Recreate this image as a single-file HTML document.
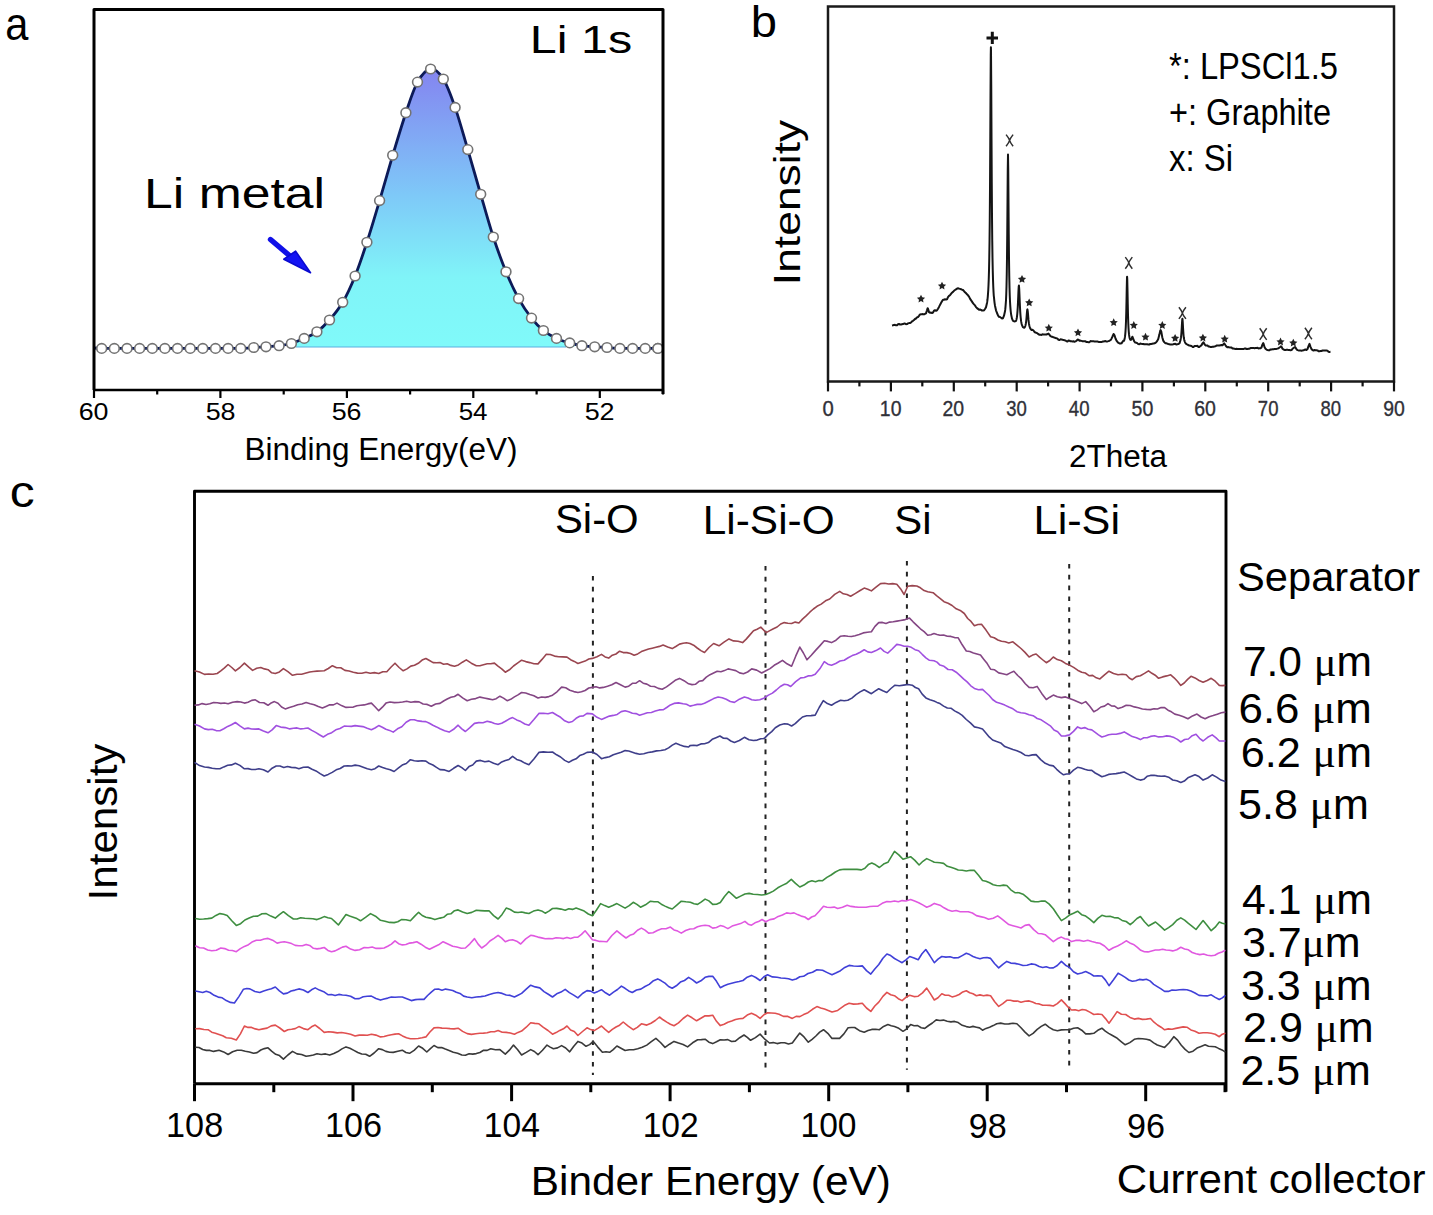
<!DOCTYPE html>
<html><head><meta charset="utf-8"><style>html,body{margin:0;padding:0;background:#fff;width:1433px;height:1215px;overflow:hidden} svg text{font-family:'Liberation Sans',sans-serif}</style></head>
<body><svg width="1433" height="1215" viewBox="0 0 1433 1215" style="font-family:'Liberation Sans',sans-serif;display:block"><defs><linearGradient id="ga" x1="0" y1="0" x2="0" y2="1"><stop offset="0" stop-color="#8484f0"/><stop offset="0.45" stop-color="#7ec8f8"/><stop offset="0.75" stop-color="#80f4f8"/><stop offset="1" stop-color="#80fafa"/></linearGradient></defs>
<path d="M291.4,343.5 C293.5,342.6 299.9,340.3 304.2,338.4 C308.4,336.4 312.7,334.9 316.9,331.8 C321.1,328.7 325.2,324.9 329.5,320.0 C333.8,315.1 338.4,309.6 342.7,302.3 C347.0,295.0 351.1,286.0 355.1,276.0 C359.1,266.0 362.8,254.9 366.9,242.3 C371.0,229.7 375.3,215.1 379.6,200.6 C383.9,186.1 388.3,170.0 392.7,155.3 C397.1,140.7 401.8,124.9 405.9,112.7 C410.0,100.5 413.4,89.4 417.5,82.1 C421.6,74.8 426.3,69.5 430.6,69.0 C434.9,68.5 439.2,72.6 443.3,79.0 C447.4,85.4 451.0,95.6 455.1,107.4 C459.2,119.2 463.5,135.1 467.8,149.6 C472.1,164.1 476.4,179.7 480.7,194.3 C484.9,208.9 489.1,224.1 493.3,237.0 C497.5,249.9 501.8,261.5 506.0,271.8 C510.2,282.1 514.4,290.9 518.6,298.6 C522.9,306.3 527.4,312.8 531.5,318.1 C535.6,323.4 539.2,327.1 543.4,330.5 C547.6,333.9 552.1,336.3 556.5,338.4 C560.9,340.5 567.5,342.1 569.7,342.9 L575,347 L290,347 Z" fill="url(#ga)" stroke="none"/>
<line x1="296" y1="347" x2="566" y2="347" stroke="#5ab0e0" stroke-width="1.2"/>
<path d="M94.0,348.0 C95.3,348.1 98.3,348.3 101.7,348.4 C105.1,348.5 110.1,348.4 114.3,348.4 C118.6,348.4 122.8,348.4 127.0,348.4 C131.2,348.4 135.4,348.4 139.6,348.4 C143.8,348.4 148.0,348.4 152.3,348.4 C156.5,348.4 160.7,348.4 164.9,348.4 C169.1,348.4 173.3,348.4 177.5,348.4 C181.8,348.4 186.0,348.4 190.2,348.4 C194.4,348.4 198.6,348.4 202.8,348.4 C207.0,348.4 211.2,348.4 215.5,348.4 C219.7,348.4 223.9,348.4 228.1,348.4 C232.3,348.4 236.5,348.5 240.7,348.4 C245.0,348.2 249.5,347.8 253.7,347.5 C257.9,347.2 261.8,347.1 266.0,346.8 C270.2,346.5 274.9,346.2 279.1,345.7 C283.3,345.1 287.2,344.7 291.4,343.5 C295.6,342.3 299.9,340.3 304.2,338.4 C308.4,336.4 312.7,334.9 316.9,331.8 C321.1,328.7 325.2,324.9 329.5,320.0 C333.8,315.1 338.4,309.6 342.7,302.3 C347.0,295.0 351.1,286.0 355.1,276.0 C359.1,266.0 362.8,254.9 366.9,242.3 C371.0,229.7 375.3,215.1 379.6,200.6 C383.9,186.1 388.3,170.0 392.7,155.3 C397.1,140.7 401.8,124.9 405.9,112.7 C410.0,100.5 413.4,89.4 417.5,82.1 C421.6,74.8 426.3,69.5 430.6,69.0 C434.9,68.5 439.2,72.6 443.3,79.0 C447.4,85.4 451.0,95.6 455.1,107.4 C459.2,119.2 463.5,135.1 467.8,149.6 C472.1,164.1 476.4,179.7 480.7,194.3 C484.9,208.9 489.1,224.1 493.3,237.0 C497.5,249.9 501.8,261.5 506.0,271.8 C510.2,282.1 514.4,290.9 518.6,298.6 C522.9,306.3 527.4,312.8 531.5,318.1 C535.6,323.4 539.2,327.1 543.4,330.5 C547.6,333.9 552.1,336.3 556.5,338.4 C560.9,340.5 565.5,341.7 569.7,342.9 C573.9,344.1 577.7,345.0 581.9,345.7 C586.1,346.4 590.5,346.5 594.7,346.8 C598.9,347.1 602.8,347.2 607.0,347.5 C611.2,347.8 615.7,348.2 619.9,348.4 C624.2,348.5 628.4,348.4 632.6,348.4 C636.8,348.4 641.0,348.4 645.2,348.4 C649.4,348.4 654.9,348.5 657.9,348.4 C660.8,348.3 662.1,348.1 663.0,348.0" fill="none" stroke="#0c1a58" stroke-width="2.8"/>
<ellipse cx="101.7" cy="348.4" rx="4.9" ry="4.8" fill="#fff" stroke="#737373" stroke-width="1.6"/>
<ellipse cx="114.3" cy="348.4" rx="4.9" ry="4.8" fill="#fff" stroke="#737373" stroke-width="1.6"/>
<ellipse cx="127.0" cy="348.4" rx="4.9" ry="4.8" fill="#fff" stroke="#737373" stroke-width="1.6"/>
<ellipse cx="139.6" cy="348.4" rx="4.9" ry="4.8" fill="#fff" stroke="#737373" stroke-width="1.6"/>
<ellipse cx="152.3" cy="348.4" rx="4.9" ry="4.8" fill="#fff" stroke="#737373" stroke-width="1.6"/>
<ellipse cx="164.9" cy="348.4" rx="4.9" ry="4.8" fill="#fff" stroke="#737373" stroke-width="1.6"/>
<ellipse cx="177.5" cy="348.4" rx="4.9" ry="4.8" fill="#fff" stroke="#737373" stroke-width="1.6"/>
<ellipse cx="190.2" cy="348.4" rx="4.9" ry="4.8" fill="#fff" stroke="#737373" stroke-width="1.6"/>
<ellipse cx="202.8" cy="348.4" rx="4.9" ry="4.8" fill="#fff" stroke="#737373" stroke-width="1.6"/>
<ellipse cx="215.5" cy="348.4" rx="4.9" ry="4.8" fill="#fff" stroke="#737373" stroke-width="1.6"/>
<ellipse cx="228.1" cy="348.4" rx="4.9" ry="4.8" fill="#fff" stroke="#737373" stroke-width="1.6"/>
<ellipse cx="240.7" cy="348.4" rx="4.9" ry="4.8" fill="#fff" stroke="#737373" stroke-width="1.6"/>
<ellipse cx="253.7" cy="347.5" rx="4.9" ry="4.8" fill="#fff" stroke="#737373" stroke-width="1.6"/>
<ellipse cx="266.0" cy="346.8" rx="4.9" ry="4.8" fill="#fff" stroke="#737373" stroke-width="1.6"/>
<ellipse cx="279.1" cy="345.7" rx="4.9" ry="4.8" fill="#fff" stroke="#737373" stroke-width="1.6"/>
<ellipse cx="291.4" cy="343.5" rx="4.9" ry="4.8" fill="#fff" stroke="#737373" stroke-width="1.6"/>
<ellipse cx="304.2" cy="338.4" rx="4.9" ry="4.8" fill="#fff" stroke="#737373" stroke-width="1.6"/>
<ellipse cx="316.9" cy="331.8" rx="4.9" ry="4.8" fill="#fff" stroke="#737373" stroke-width="1.6"/>
<ellipse cx="329.5" cy="320.0" rx="4.9" ry="4.8" fill="#fff" stroke="#737373" stroke-width="1.6"/>
<ellipse cx="342.7" cy="302.3" rx="4.9" ry="4.8" fill="#fff" stroke="#737373" stroke-width="1.6"/>
<ellipse cx="355.1" cy="276.0" rx="4.9" ry="4.8" fill="#fff" stroke="#737373" stroke-width="1.6"/>
<ellipse cx="366.9" cy="242.3" rx="4.9" ry="4.8" fill="#fff" stroke="#737373" stroke-width="1.6"/>
<ellipse cx="379.6" cy="200.6" rx="4.9" ry="4.8" fill="#fff" stroke="#737373" stroke-width="1.6"/>
<ellipse cx="392.7" cy="155.3" rx="4.9" ry="4.8" fill="#fff" stroke="#737373" stroke-width="1.6"/>
<ellipse cx="405.9" cy="112.7" rx="4.9" ry="4.8" fill="#fff" stroke="#737373" stroke-width="1.6"/>
<ellipse cx="417.5" cy="82.1" rx="4.9" ry="4.8" fill="#fff" stroke="#737373" stroke-width="1.6"/>
<ellipse cx="430.6" cy="69.0" rx="4.9" ry="4.8" fill="#fff" stroke="#737373" stroke-width="1.6"/>
<ellipse cx="443.3" cy="79.0" rx="4.9" ry="4.8" fill="#fff" stroke="#737373" stroke-width="1.6"/>
<ellipse cx="455.1" cy="107.4" rx="4.9" ry="4.8" fill="#fff" stroke="#737373" stroke-width="1.6"/>
<ellipse cx="467.8" cy="149.6" rx="4.9" ry="4.8" fill="#fff" stroke="#737373" stroke-width="1.6"/>
<ellipse cx="480.7" cy="194.3" rx="4.9" ry="4.8" fill="#fff" stroke="#737373" stroke-width="1.6"/>
<ellipse cx="493.3" cy="237.0" rx="4.9" ry="4.8" fill="#fff" stroke="#737373" stroke-width="1.6"/>
<ellipse cx="506.0" cy="271.8" rx="4.9" ry="4.8" fill="#fff" stroke="#737373" stroke-width="1.6"/>
<ellipse cx="518.6" cy="298.6" rx="4.9" ry="4.8" fill="#fff" stroke="#737373" stroke-width="1.6"/>
<ellipse cx="531.5" cy="318.1" rx="4.9" ry="4.8" fill="#fff" stroke="#737373" stroke-width="1.6"/>
<ellipse cx="543.4" cy="330.5" rx="4.9" ry="4.8" fill="#fff" stroke="#737373" stroke-width="1.6"/>
<ellipse cx="556.5" cy="338.4" rx="4.9" ry="4.8" fill="#fff" stroke="#737373" stroke-width="1.6"/>
<ellipse cx="569.7" cy="342.9" rx="4.9" ry="4.8" fill="#fff" stroke="#737373" stroke-width="1.6"/>
<ellipse cx="581.9" cy="345.7" rx="4.9" ry="4.8" fill="#fff" stroke="#737373" stroke-width="1.6"/>
<ellipse cx="594.7" cy="346.8" rx="4.9" ry="4.8" fill="#fff" stroke="#737373" stroke-width="1.6"/>
<ellipse cx="607.0" cy="347.5" rx="4.9" ry="4.8" fill="#fff" stroke="#737373" stroke-width="1.6"/>
<ellipse cx="619.9" cy="348.4" rx="4.9" ry="4.8" fill="#fff" stroke="#737373" stroke-width="1.6"/>
<ellipse cx="632.6" cy="348.4" rx="4.9" ry="4.8" fill="#fff" stroke="#737373" stroke-width="1.6"/>
<ellipse cx="645.2" cy="348.4" rx="4.9" ry="4.8" fill="#fff" stroke="#737373" stroke-width="1.6"/>
<ellipse cx="657.9" cy="348.4" rx="4.9" ry="4.8" fill="#fff" stroke="#737373" stroke-width="1.6"/>
<ellipse cx="657.9" cy="348.4" rx="4.9" ry="4.8" fill="#fff" stroke="#737373" stroke-width="1.6"/>
<path d="M94,390 L94,9.5 L663,9.5 L663,394" fill="none" stroke="#000" stroke-width="3" stroke-linejoin="round"/><path d="M94,390 L663,390" fill="none" stroke="#000" stroke-width="2.5"/>
<line x1="663.0" y1="390" x2="663.0" y2="394.5" stroke="#000" stroke-width="2.2"/>
<line x1="599.8" y1="390" x2="599.8" y2="398" stroke="#000" stroke-width="2.2"/>
<text x="584.65" y="419.8" font-size="24" text-anchor="start" fill="#000" textLength="29.96" lengthAdjust="spacingAndGlyphs" >52</text>
<line x1="536.6" y1="390" x2="536.6" y2="394.5" stroke="#000" stroke-width="2.2"/>
<line x1="473.3" y1="390" x2="473.3" y2="398" stroke="#000" stroke-width="2.2"/>
<text x="458.65" y="419.8" font-size="24" text-anchor="start" fill="#000" textLength="28.89" lengthAdjust="spacingAndGlyphs" >54</text>
<line x1="410.1" y1="390" x2="410.1" y2="394.5" stroke="#000" stroke-width="2.2"/>
<line x1="346.9" y1="390" x2="346.9" y2="398" stroke="#000" stroke-width="2.2"/>
<text x="331.65" y="419.8" font-size="24" text-anchor="start" fill="#000" textLength="29.88" lengthAdjust="spacingAndGlyphs" >56</text>
<line x1="283.7" y1="390" x2="283.7" y2="394.5" stroke="#000" stroke-width="2.2"/>
<line x1="220.4" y1="390" x2="220.4" y2="398" stroke="#000" stroke-width="2.2"/>
<text x="205.65" y="419.8" font-size="24" text-anchor="start" fill="#000" textLength="29.92" lengthAdjust="spacingAndGlyphs" >58</text>
<line x1="157.2" y1="390" x2="157.2" y2="394.5" stroke="#000" stroke-width="2.2"/>
<line x1="94.0" y1="390" x2="94.0" y2="398" stroke="#000" stroke-width="2.2"/>
<text x="78.65" y="419.8" font-size="24" text-anchor="start" fill="#000" textLength="29.84" lengthAdjust="spacingAndGlyphs" >60</text>
<text x="5.30" y="40.2" font-size="46" text-anchor="start" fill="#000" textLength="23.14" lengthAdjust="spacingAndGlyphs" >a</text>
<text x="529.80" y="52.5" font-size="39" text-anchor="start" fill="#000" textLength="102.36" lengthAdjust="spacingAndGlyphs" >Li 1s</text>
<text x="144.10" y="207.6" font-size="42" text-anchor="start" fill="#000" textLength="180.95" lengthAdjust="spacingAndGlyphs" >Li metal</text>
<text x="244.60" y="459.6" font-size="31" text-anchor="start" fill="#000" textLength="272.79" lengthAdjust="spacingAndGlyphs" >Binding Energy(eV)</text>
<line x1="270.5" y1="239.5" x2="290" y2="256" stroke="#1010e8" stroke-width="5.4" stroke-linecap="round"/>
<polygon points="310.5,272.8 283.8,259.2 295.6,251.2" fill="#1414f4" stroke="#0a0ad0" stroke-width="1.6" stroke-linejoin="round"/>
<path d="M828,381.4 L828,6.5 L1394,6.5 L1394,381.4 Z" fill="none" stroke="#1a1a1a" stroke-width="2.5"/>
<line x1="828.0" y1="381.4" x2="828.0" y2="391.4" stroke="#111" stroke-width="2.2"/>
<text x="822.40" y="415.8" font-size="22.3" text-anchor="start" fill="#303038" textLength="11.27" lengthAdjust="spacingAndGlyphs" stroke="#303038" stroke-width="0.35">0</text>
<line x1="859.4" y1="381.4" x2="859.4" y2="386.4" stroke="#111" stroke-width="2.2"/>
<line x1="890.9" y1="381.4" x2="890.9" y2="391.4" stroke="#111" stroke-width="2.2"/>
<text x="879.87" y="415.8" font-size="22.3" text-anchor="start" fill="#303038" textLength="21.61" lengthAdjust="spacingAndGlyphs" stroke="#303038" stroke-width="0.35">10</text>
<line x1="922.3" y1="381.4" x2="922.3" y2="386.4" stroke="#111" stroke-width="2.2"/>
<line x1="953.8" y1="381.4" x2="953.8" y2="391.4" stroke="#111" stroke-width="2.2"/>
<text x="942.53" y="415.8" font-size="22.3" text-anchor="start" fill="#303038" textLength="21.66" lengthAdjust="spacingAndGlyphs" stroke="#303038" stroke-width="0.35">20</text>
<line x1="985.2" y1="381.4" x2="985.2" y2="386.4" stroke="#111" stroke-width="2.2"/>
<line x1="1016.7" y1="381.4" x2="1016.7" y2="391.4" stroke="#111" stroke-width="2.2"/>
<text x="1006.20" y="415.8" font-size="22.3" text-anchor="start" fill="#303038" textLength="20.63" lengthAdjust="spacingAndGlyphs" stroke="#303038" stroke-width="0.35">30</text>
<line x1="1048.1" y1="381.4" x2="1048.1" y2="386.4" stroke="#111" stroke-width="2.2"/>
<line x1="1079.6" y1="381.4" x2="1079.6" y2="391.4" stroke="#111" stroke-width="2.2"/>
<text x="1068.87" y="415.8" font-size="22.3" text-anchor="start" fill="#303038" textLength="20.68" lengthAdjust="spacingAndGlyphs" stroke="#303038" stroke-width="0.35">40</text>
<line x1="1111.0" y1="381.4" x2="1111.0" y2="386.4" stroke="#111" stroke-width="2.2"/>
<line x1="1142.4" y1="381.4" x2="1142.4" y2="391.4" stroke="#111" stroke-width="2.2"/>
<text x="1131.53" y="415.8" font-size="22.3" text-anchor="start" fill="#303038" textLength="21.77" lengthAdjust="spacingAndGlyphs" stroke="#303038" stroke-width="0.35">50</text>
<line x1="1173.9" y1="381.4" x2="1173.9" y2="386.4" stroke="#111" stroke-width="2.2"/>
<line x1="1205.3" y1="381.4" x2="1205.3" y2="391.4" stroke="#111" stroke-width="2.2"/>
<text x="1194.20" y="415.8" font-size="22.3" text-anchor="start" fill="#303038" textLength="21.72" lengthAdjust="spacingAndGlyphs" stroke="#303038" stroke-width="0.35">60</text>
<line x1="1236.8" y1="381.4" x2="1236.8" y2="386.4" stroke="#111" stroke-width="2.2"/>
<line x1="1268.2" y1="381.4" x2="1268.2" y2="391.4" stroke="#111" stroke-width="2.2"/>
<text x="1257.87" y="415.8" font-size="22.3" text-anchor="start" fill="#303038" textLength="20.58" lengthAdjust="spacingAndGlyphs" stroke="#303038" stroke-width="0.35">70</text>
<line x1="1299.7" y1="381.4" x2="1299.7" y2="386.4" stroke="#111" stroke-width="2.2"/>
<line x1="1331.1" y1="381.4" x2="1331.1" y2="391.4" stroke="#111" stroke-width="2.2"/>
<text x="1320.53" y="415.8" font-size="22.3" text-anchor="start" fill="#303038" textLength="20.63" lengthAdjust="spacingAndGlyphs" stroke="#303038" stroke-width="0.35">80</text>
<line x1="1362.6" y1="381.4" x2="1362.6" y2="386.4" stroke="#111" stroke-width="2.2"/>
<line x1="1394.0" y1="381.4" x2="1394.0" y2="391.4" stroke="#111" stroke-width="2.2"/>
<text x="1383.20" y="415.8" font-size="22.3" text-anchor="start" fill="#303038" textLength="21.61" lengthAdjust="spacingAndGlyphs" stroke="#303038" stroke-width="0.35">90</text>
<text x="750.80" y="36.6" font-size="45" text-anchor="start" fill="#000" textLength="26.24" lengthAdjust="spacingAndGlyphs" >b</text>
<text x="1069.00" y="466.6" font-size="31" text-anchor="start" fill="#000" textLength="98.00" lengthAdjust="spacingAndGlyphs" >2Theta</text>
<text x="0" y="0" font-size="37.5" transform="translate(800,285.2) rotate(-90)" textLength="165.4" lengthAdjust="spacingAndGlyphs">Intensity</text>
<text x="1169.00" y="78.5" font-size="37" text-anchor="start" fill="#000" textLength="169.00" lengthAdjust="spacingAndGlyphs" >*: LPSCl1.5</text>
<text x="1169.00" y="124.9" font-size="37" text-anchor="start" fill="#000" textLength="162.00" lengthAdjust="spacingAndGlyphs" >+: Graphite</text>
<text x="1169.00" y="170.6" font-size="37" text-anchor="start" fill="#000" textLength="64.00" lengthAdjust="spacingAndGlyphs" >x: Si</text>
<polyline points="892.00,325.5 893.00,325.3 894.00,324.9 895.00,324.8 896.00,325.3 897.00,325.2 898.00,324.2 899.00,324.0 900.00,324.5 901.00,324.5 902.00,324.2 903.00,324.1 904.00,323.6 905.00,323.6 906.00,324.2 907.00,324.1 908.00,323.4 909.00,323.1 910.00,323.1 911.00,322.5 912.00,321.4 913.00,320.8 914.00,320.0 915.00,319.0 916.00,318.5 917.00,317.4 918.00,317.0 919.00,315.9 920.00,314.4 921.00,314.3 922.00,314.3 923.00,314.1 924.00,314.4 925.00,313.9 926.00,313.4 927.00,310.3 927.60,308.2 928.00,308.7 929.00,312.1 930.00,312.8 931.00,312.6 932.00,313.0 933.00,312.5 934.00,310.7 935.00,310.2 936.00,310.8 937.00,310.3 938.00,308.7 939.00,306.9 940.00,304.9 941.00,303.1 942.00,301.3 943.00,299.7 944.00,299.7 945.00,299.3 946.00,299.6 947.00,299.3 948.00,297.1 949.00,295.9 950.00,295.2 951.00,293.9 952.00,292.7 953.00,291.9 954.00,290.8 955.00,290.0 956.00,289.4 957.00,288.6 958.00,288.3 959.00,288.6 960.00,288.9 961.00,289.2 962.00,289.7 963.00,290.0 964.00,291.1 965.00,292.3 966.00,293.1 967.00,294.3 968.00,295.3 969.00,296.6 970.00,298.6 971.00,300.2 972.00,301.6 973.00,303.2 974.00,304.4 975.00,305.4 976.00,307.1 977.00,308.1 978.00,308.9 979.00,309.7 980.00,309.5 981.00,309.9 982.00,310.6 983.00,310.6 984.00,310.3 985.00,309.0 986.00,307.2 987.00,303.0 987.25,301.4 987.50,299.5 987.75,297.1 988.00,293.9 988.25,290.2 988.50,285.3 988.75,279.0 989.00,270.6 989.25,259.1 989.50,243.1 989.75,220.7 990.00,188.4 990.25,145.8 990.50,95.6 990.75,55.2 990.90,47.2 991.00,50.9 991.25,86.2 991.50,136.6 991.75,181.6 992.00,216.4 992.25,240.7 992.50,257.9 992.75,270.3 993.00,279.4 993.25,286.2 993.50,291.4 993.75,295.5 994.00,297.6 994.25,300.2 994.50,302.3 994.75,304.1 995.00,305.7 996.00,310.3 997.00,313.0 998.00,315.4 999.00,316.8 1000.00,317.0 1001.00,317.7 1002.00,318.4 1003.00,318.2 1004.00,315.7 1005.00,311.3 1005.25,309.4 1005.50,306.9 1005.75,303.7 1006.00,300.3 1006.25,294.5 1006.50,286.3 1006.75,274.6 1007.00,257.7 1007.25,233.7 1007.50,202.0 1007.75,169.4 1008.00,154.5 1008.25,169.7 1008.50,202.4 1008.75,234.2 1009.00,258.4 1009.25,275.4 1009.50,287.2 1009.75,295.5 1010.00,301.2 1010.25,305.6 1010.50,308.9 1010.75,311.5 1011.00,313.5 1011.25,315.1 1011.50,316.3 1011.75,317.4 1012.00,318.7 1013.00,320.9 1014.00,321.2 1015.00,321.4 1015.25,321.3 1015.50,321.1 1015.75,320.7 1016.00,320.8 1016.25,320.1 1016.50,319.2 1016.75,318.0 1017.00,316.3 1017.25,314.1 1017.50,311.1 1017.75,307.2 1018.00,302.1 1018.25,296.2 1018.50,290.3 1018.75,286.3 1018.90,285.6 1019.00,286.0 1019.25,289.8 1019.50,295.8 1019.75,302.1 1020.00,307.6 1020.25,312.1 1020.50,315.5 1020.75,318.2 1021.00,320.3 1021.25,321.9 1021.50,323.2 1021.75,324.3 1022.00,325.0 1022.25,325.6 1022.50,326.2 1022.75,326.7 1023.00,327.1 1024.00,327.8 1024.25,327.7 1024.50,327.5 1024.75,327.2 1025.00,326.7 1025.25,326.1 1025.50,325.2 1025.75,324.0 1026.00,322.6 1026.25,320.6 1026.50,318.0 1026.75,314.9 1027.00,311.9 1027.25,309.7 1027.40,309.4 1027.50,309.6 1027.75,311.4 1028.00,313.8 1028.25,317.1 1028.50,319.9 1028.75,322.1 1029.00,323.9 1029.25,325.2 1029.50,326.2 1029.75,327.0 1030.00,327.9 1030.25,328.4 1030.50,328.8 1030.75,329.2 1031.00,329.5 1031.25,329.7 1031.50,329.9 1032.50,329.8 1033.50,330.5 1034.50,332.0 1035.50,332.5 1036.50,332.9 1037.50,333.4 1038.50,334.3 1039.50,334.7 1040.50,334.8 1041.50,334.9 1042.50,334.3 1043.50,334.4 1044.50,334.6 1045.50,334.5 1046.50,334.6 1047.50,333.9 1047.80,333.9 1048.50,333.6 1049.50,334.8 1050.50,336.2 1051.50,336.7 1052.50,336.8 1053.50,337.3 1054.50,337.6 1055.50,338.0 1056.50,338.3 1057.50,338.6 1058.50,339.8 1059.50,340.0 1060.50,339.3 1061.50,339.4 1062.50,339.8 1063.50,339.9 1064.50,340.3 1065.50,340.5 1066.50,341.3 1067.50,341.5 1068.50,340.5 1069.50,340.7 1070.50,341.3 1071.50,341.3 1072.50,341.4 1073.50,341.3 1074.50,341.7 1075.50,341.4 1076.50,340.7 1077.50,339.7 1078.00,339.5 1078.50,339.8 1079.50,340.8 1080.50,340.6 1081.50,340.9 1082.50,341.2 1083.50,341.3 1084.50,341.3 1085.50,341.3 1086.50,342.1 1087.50,342.1 1088.50,342.2 1089.50,342.2 1090.50,341.1 1091.50,341.2 1092.50,341.2 1093.50,341.3 1094.50,341.4 1095.50,341.4 1096.50,341.5 1097.50,341.5 1098.50,341.9 1099.50,341.9 1100.50,342.1 1101.50,342.1 1102.50,341.6 1103.50,341.6 1104.50,341.2 1105.50,341.1 1106.50,341.6 1107.50,341.4 1108.50,341.1 1109.50,340.7 1110.50,340.2 1111.50,338.7 1112.50,336.5 1113.50,334.1 1113.70,334.0 1114.50,335.2 1115.50,338.5 1116.50,340.6 1117.50,342.0 1118.50,342.9 1119.50,343.4 1120.50,343.6 1121.50,343.3 1122.50,341.9 1123.50,340.7 1123.75,340.2 1124.00,340.8 1124.25,340.1 1124.50,339.2 1124.75,338.0 1125.00,336.4 1125.25,334.3 1125.50,331.4 1125.75,327.3 1126.00,321.3 1126.25,312.9 1126.50,301.3 1126.75,287.7 1127.00,277.8 1127.10,276.7 1127.25,279.0 1127.50,290.3 1127.75,303.7 1128.00,314.7 1128.25,322.5 1128.50,327.9 1128.75,331.6 1129.00,334.2 1129.25,336.1 1129.50,337.4 1129.75,338.4 1130.00,339.0 1130.25,339.5 1130.50,339.8 1130.75,339.9 1131.00,339.8 1131.25,339.6 1132.25,336.9 1132.50,336.8 1133.25,338.8 1134.25,341.4 1135.25,342.6 1136.25,342.7 1137.25,343.1 1138.25,344.1 1139.25,344.3 1140.25,343.6 1141.25,343.8 1142.25,343.9 1143.25,344.0 1144.25,344.3 1145.25,344.3 1146.25,344.3 1147.25,344.3 1148.25,344.5 1149.25,344.5 1150.25,344.0 1151.25,343.9 1152.25,343.7 1153.25,343.5 1154.25,343.4 1155.25,343.0 1156.25,342.2 1157.25,340.9 1158.25,339.0 1159.25,335.1 1160.25,330.6 1160.60,330.1 1161.25,331.5 1162.25,337.2 1163.25,340.6 1164.25,342.1 1165.25,343.2 1166.25,343.2 1167.25,343.6 1168.25,344.0 1169.25,344.2 1170.25,344.4 1171.25,344.4 1172.25,344.4 1173.25,344.3 1174.25,343.9 1175.25,343.7 1176.25,344.6 1177.25,344.3 1178.25,344.1 1179.25,343.4 1179.50,343.2 1179.75,342.8 1180.00,341.6 1180.25,340.9 1180.50,340.1 1180.75,338.9 1181.00,337.2 1181.25,335.0 1181.50,331.8 1181.75,327.7 1182.00,323.1 1182.25,319.5 1182.40,318.8 1182.50,319.1 1182.75,322.3 1183.00,327.0 1183.25,331.4 1183.50,334.8 1183.75,337.3 1184.00,338.5 1184.25,339.9 1184.50,340.9 1184.75,341.6 1185.00,342.2 1185.25,342.7 1185.50,343.1 1185.75,343.4 1186.00,343.6 1186.25,343.9 1186.50,344.1 1187.50,344.6 1188.50,345.3 1189.50,345.6 1190.50,345.7 1191.50,345.9 1192.50,346.9 1193.50,347.0 1194.50,346.1 1195.50,346.1 1196.50,345.9 1197.50,345.8 1198.50,347.0 1199.50,346.9 1200.50,345.9 1201.50,345.3 1202.50,343.3 1203.40,342.3 1203.50,342.3 1204.50,344.2 1205.50,345.5 1206.50,345.4 1207.50,345.6 1208.50,346.5 1209.50,346.5 1210.50,347.1 1211.50,347.0 1212.50,346.8 1213.50,346.7 1214.50,346.4 1215.50,346.3 1216.50,345.6 1217.50,345.5 1218.50,345.5 1219.50,345.5 1220.50,345.2 1221.50,345.0 1222.50,345.3 1223.50,344.1 1224.10,343.4 1224.50,343.7 1225.50,345.3 1226.50,346.7 1227.50,347.3 1228.50,347.1 1229.50,347.4 1230.50,347.4 1231.50,347.5 1232.50,348.4 1233.50,348.5 1234.50,348.8 1235.50,348.9 1236.50,348.8 1237.50,348.9 1238.50,348.9 1239.50,348.9 1240.50,349.0 1241.50,349.1 1242.50,349.1 1243.50,349.1 1244.50,348.5 1245.50,348.5 1246.50,349.0 1247.50,349.0 1248.50,348.7 1249.50,348.7 1250.50,348.1 1251.50,348.1 1252.50,348.0 1253.50,347.9 1254.50,348.2 1255.50,348.1 1256.50,348.0 1257.50,347.8 1258.50,348.4 1259.50,348.3 1260.50,348.3 1261.50,347.4 1262.50,344.4 1263.20,343.1 1263.50,343.5 1264.50,347.0 1265.50,348.7 1266.50,349.6 1267.50,350.0 1268.50,350.2 1269.50,350.2 1270.50,349.4 1271.50,349.4 1272.50,349.2 1273.50,349.2 1274.50,349.1 1275.50,349.0 1276.50,348.9 1277.50,348.6 1278.50,348.3 1279.50,347.5 1280.50,346.8 1281.00,346.4 1281.50,346.8 1282.50,348.7 1283.50,349.5 1284.50,349.9 1285.50,350.1 1286.50,349.7 1287.50,349.8 1288.50,350.1 1289.50,350.1 1290.50,350.3 1291.50,350.1 1292.50,348.8 1293.50,348.0 1294.50,347.4 1295.00,347.1 1295.50,347.5 1296.50,349.3 1297.50,350.1 1298.50,350.4 1299.50,350.6 1300.50,350.6 1301.50,350.7 1302.50,350.4 1303.50,350.3 1304.50,349.8 1305.50,349.5 1306.50,350.0 1307.50,349.1 1308.50,346.2 1309.50,343.8 1310.50,346.9 1311.50,349.0 1312.50,350.1 1313.50,350.5 1314.50,350.0 1315.50,350.2 1316.50,350.3 1317.50,350.4 1318.50,351.2 1319.50,351.3 1320.50,351.1 1321.50,351.1 1322.50,350.4 1323.50,350.5 1324.50,350.5 1325.50,350.5 1326.50,350.6 1327.50,350.7 1328.50,351.8 1329.50,351.9 1330.50,351.8" fill="none" stroke="#141414" stroke-width="2" stroke-linejoin="round"/>
<polygon points="921.0,294.7 922.3,297.3 925.1,297.7 923.0,299.7 923.5,302.5 921.0,301.1 918.5,302.5 919.0,299.7 916.9,297.7 919.7,297.3" fill="#222"/>
<polygon points="942.0,281.7 943.3,284.3 946.1,284.7 944.0,286.7 944.5,289.5 942.0,288.1 939.5,289.5 940.0,286.7 937.9,284.7 940.7,284.3" fill="#222"/>
<polygon points="1022.0,275.0 1023.3,277.6 1026.1,278.0 1024.0,280.0 1024.5,282.8 1022.0,281.4 1019.5,282.8 1020.0,280.0 1017.9,278.0 1020.7,277.6" fill="#222"/>
<polygon points="1029.2,298.5 1030.5,301.1 1033.3,301.5 1031.2,303.5 1031.7,306.3 1029.2,304.9 1026.7,306.3 1027.2,303.5 1025.1,301.5 1027.9,301.1" fill="#222"/>
<polygon points="1048.8,323.8 1050.1,326.4 1052.9,326.8 1050.8,328.8 1051.3,331.6 1048.8,330.2 1046.3,331.6 1046.8,328.8 1044.7,326.8 1047.5,326.4" fill="#222"/>
<polygon points="1078.0,328.4 1079.3,331.0 1082.1,331.4 1080.0,333.4 1080.5,336.2 1078.0,334.8 1075.5,336.2 1076.0,333.4 1073.9,331.4 1076.7,331.0" fill="#222"/>
<polygon points="1113.7,318.3 1115.0,320.9 1117.8,321.3 1115.7,323.3 1116.2,326.1 1113.7,324.8 1111.2,326.1 1111.7,323.3 1109.6,321.3 1112.4,320.9" fill="#222"/>
<polygon points="1133.8,321.1 1135.1,323.7 1137.9,324.1 1135.8,326.1 1136.3,328.9 1133.8,327.5 1131.3,328.9 1131.8,326.1 1129.7,324.1 1132.5,323.7" fill="#222"/>
<polygon points="1145.5,332.8 1146.8,335.4 1149.6,335.8 1147.5,337.8 1148.0,340.6 1145.5,339.2 1143.0,340.6 1143.5,337.8 1141.4,335.8 1144.2,335.4" fill="#222"/>
<polygon points="1162.3,321.1 1163.6,323.7 1166.4,324.1 1164.3,326.1 1164.8,328.9 1162.3,327.5 1159.8,328.9 1160.3,326.1 1158.2,324.1 1161.0,323.7" fill="#222"/>
<polygon points="1175.1,334.0 1176.4,336.6 1179.2,337.0 1177.1,339.0 1177.6,341.8 1175.1,340.4 1172.6,341.8 1173.1,339.0 1171.0,337.0 1173.8,336.6" fill="#222"/>
<polygon points="1202.9,333.7 1204.2,336.3 1207.0,336.7 1204.9,338.7 1205.4,341.5 1202.9,340.1 1200.4,341.5 1200.9,338.7 1198.8,336.7 1201.6,336.3" fill="#222"/>
<polygon points="1224.7,334.8 1226.0,337.4 1228.8,337.8 1226.7,339.8 1227.2,342.6 1224.7,341.2 1222.2,342.6 1222.7,339.8 1220.6,337.8 1223.4,337.4" fill="#222"/>
<polygon points="1280.5,337.6 1281.8,340.2 1284.6,340.6 1282.5,342.6 1283.0,345.4 1280.5,344.0 1278.0,345.4 1278.5,342.6 1276.4,340.6 1279.2,340.2" fill="#222"/>
<polygon points="1293.3,338.7 1294.6,341.3 1297.4,341.7 1295.3,343.7 1295.8,346.5 1293.3,345.1 1290.8,346.5 1291.3,343.7 1289.2,341.7 1292.0,341.3" fill="#222"/>
<path d="M1006.1,134.6 Q1009.1,138.4 1009.6,140.4 Q1010.1,142.4 1013.1,146.2 M1013.1,134.6 Q1010.1,138.4 1009.6,140.4 Q1009.1,142.4 1006.1,146.2" fill="none" stroke="#2e2e2e" stroke-width="1.5"/>
<path d="M1125.3,257.1 Q1128.3,260.9 1128.8,262.9 Q1129.3,264.9 1132.3,268.7 M1132.3,257.1 Q1129.3,260.9 1128.8,262.9 Q1128.3,264.9 1125.3,268.7" fill="none" stroke="#2e2e2e" stroke-width="1.5"/>
<path d="M1178.9,307.3 Q1181.9,311.1 1182.4,313.1 Q1182.9,315.1 1185.9,318.9 M1185.9,307.3 Q1182.9,311.1 1182.4,313.1 Q1181.9,315.1 1178.9,318.9" fill="none" stroke="#2e2e2e" stroke-width="1.5"/>
<path d="M1259.7,328.3 Q1262.7,332.1 1263.2,334.1 Q1263.7,336.1 1266.7,339.9 M1266.7,328.3 Q1263.7,332.1 1263.2,334.1 Q1262.7,336.1 1259.7,339.9" fill="none" stroke="#2e2e2e" stroke-width="1.5"/>
<path d="M1304.9,327.7 Q1307.9,331.5 1308.4,333.5 Q1308.9,335.5 1311.9,339.3 M1311.9,327.7 Q1308.9,331.5 1308.4,333.5 Q1307.9,335.5 1304.9,339.3" fill="none" stroke="#2e2e2e" stroke-width="1.5"/>
<path d="M986.5,37.9 L998,37.9 M992.3,31.8 L992.3,44" stroke="#111" stroke-width="3"/>
<path d="M194.5,1083.7 L194.5,491.3 L1226,491.3 L1226,1091.7 M194.5,1083.7 L1226,1083.7" fill="none" stroke="#000" stroke-width="2.9" stroke-linejoin="round"/>
<line x1="1225.0" y1="1083.7" x2="1225.0" y2="1092.2" stroke="#000" stroke-width="3"/>
<line x1="1145.7" y1="1083.7" x2="1145.7" y2="1101.2" stroke="#000" stroke-width="3"/>
<text x="1126.94" y="1137.6" font-size="35" text-anchor="start" fill="#000" textLength="38.00" lengthAdjust="spacingAndGlyphs" >96</text>
<line x1="1066.5" y1="1083.7" x2="1066.5" y2="1092.2" stroke="#000" stroke-width="3"/>
<line x1="987.2" y1="1083.7" x2="987.2" y2="1101.2" stroke="#000" stroke-width="3"/>
<text x="968.70" y="1137.6" font-size="35" text-anchor="start" fill="#000" textLength="38.00" lengthAdjust="spacingAndGlyphs" >98</text>
<line x1="907.9" y1="1083.7" x2="907.9" y2="1092.2" stroke="#000" stroke-width="3"/>
<line x1="828.7" y1="1083.7" x2="828.7" y2="1101.2" stroke="#000" stroke-width="3"/>
<text x="800.54" y="1137.4" font-size="35" text-anchor="start" fill="#000" textLength="56.02" lengthAdjust="spacingAndGlyphs" >100</text>
<line x1="749.4" y1="1083.7" x2="749.4" y2="1092.2" stroke="#000" stroke-width="3"/>
<line x1="670.1" y1="1083.7" x2="670.1" y2="1101.2" stroke="#000" stroke-width="3"/>
<text x="642.68" y="1137.4" font-size="35" text-anchor="start" fill="#000" textLength="56.04" lengthAdjust="spacingAndGlyphs" >102</text>
<line x1="590.8" y1="1083.7" x2="590.8" y2="1092.2" stroke="#000" stroke-width="3"/>
<line x1="511.6" y1="1083.7" x2="511.6" y2="1101.2" stroke="#000" stroke-width="3"/>
<text x="483.82" y="1137.4" font-size="35" text-anchor="start" fill="#000" textLength="56.02" lengthAdjust="spacingAndGlyphs" >104</text>
<line x1="432.3" y1="1083.7" x2="432.3" y2="1092.2" stroke="#000" stroke-width="3"/>
<line x1="353.0" y1="1083.7" x2="353.0" y2="1101.2" stroke="#000" stroke-width="3"/>
<text x="324.96" y="1137.4" font-size="35" text-anchor="start" fill="#000" textLength="57.10" lengthAdjust="spacingAndGlyphs" >106</text>
<line x1="273.8" y1="1083.7" x2="273.8" y2="1092.2" stroke="#000" stroke-width="3"/>
<line x1="194.5" y1="1083.7" x2="194.5" y2="1101.2" stroke="#000" stroke-width="3"/>
<text x="166.10" y="1137.4" font-size="35" text-anchor="start" fill="#000" textLength="57.10" lengthAdjust="spacingAndGlyphs" >108</text>
<text x="9.70" y="507.3" font-size="45" text-anchor="start" fill="#000" textLength="24.88" lengthAdjust="spacingAndGlyphs" >c</text>
<text x="530.80" y="1195.3" font-size="40.5" text-anchor="start" fill="#000" textLength="360.08" lengthAdjust="spacingAndGlyphs" >Binder Energy (eV)</text>
<text x="1116.80" y="1192.5" font-size="40" text-anchor="start" fill="#000" textLength="308.60" lengthAdjust="spacingAndGlyphs" >Current collector</text>
<text x="0" y="0" font-size="40" transform="translate(116.7,900.4) rotate(-90)" textLength="156.8" lengthAdjust="spacingAndGlyphs">Intensity</text>
<text x="554.90" y="532.6" font-size="40" text-anchor="start" fill="#000" textLength="83.82" lengthAdjust="spacingAndGlyphs" >Si-O</text>
<text x="702.80" y="533.5" font-size="40" text-anchor="start" fill="#000" textLength="131.80" lengthAdjust="spacingAndGlyphs" >Li-Si-O</text>
<text x="894.20" y="534" font-size="40" text-anchor="start" fill="#000" textLength="37.30" lengthAdjust="spacingAndGlyphs" >Si</text>
<text x="1033.60" y="534" font-size="40" text-anchor="start" fill="#000" textLength="86.46" lengthAdjust="spacingAndGlyphs" >Li-Si</text>
<line x1="592.9" y1="576" x2="592.9" y2="1075" stroke="#222" stroke-width="2" stroke-dasharray="4.6,6.2"/>
<line x1="765.5" y1="566" x2="765.5" y2="1073.5" stroke="#222" stroke-width="2" stroke-dasharray="4.6,6.2"/>
<line x1="906.9" y1="561" x2="906.9" y2="1069.7" stroke="#222" stroke-width="2" stroke-dasharray="4.6,6.2"/>
<line x1="1069.2" y1="564" x2="1069.2" y2="1071.6" stroke="#222" stroke-width="2" stroke-dasharray="4.6,6.2"/>
<polyline points="194.5,670.8 199.5,672.0 204.5,674.4 208.7,674.0 213.0,674.3 217.2,673.5 220.8,670.9 224.5,667.9 228.1,664.5 231.8,667.5 235.4,670.8 239.9,667.5 244.4,663.2 248.5,666.9 252.6,670.4 256.7,668.2 260.8,667.5 264.4,668.9 268.1,669.7 271.7,672.8 275.3,673.5 279.4,671.9 283.4,668.6 287.9,671.7 292.5,675.3 297.0,674.2 301.6,674.2 306.1,673.0 309.7,672.0 313.3,671.5 317.0,671.1 320.6,671.0 324.2,670.8 328.3,668.5 332.4,665.7 336.6,667.8 340.8,667.8 344.9,670.4 349.1,671.0 353.3,672.2 357.5,673.1 361.8,673.2 366.0,672.2 370.2,673.3 374.5,672.6 378.7,673.5 382.8,671.7 386.8,671.7 390.9,667.3 395.0,663.2 399.1,667.5 403.2,670.8 407.0,668.9 410.8,666.1 414.5,665.3 418.3,663.3 422.1,660.1 425.9,658.5 429.5,660.5 433.1,662.6 436.6,662.8 440.0,662.6 443.6,664.2 447.2,663.7 450.9,665.4 454.5,666.2 458.4,664.9 462.4,662.2 466.3,659.9 471.3,663.2 476.3,665.7 479.9,665.7 483.5,664.7 487.2,663.8 490.8,663.8 494.4,663.1 498.0,666.2 501.7,668.9 505.3,672.2 509.4,669.8 513.5,666.0 517.5,663.2 521.6,660.2 525.7,661.6 529.8,662.6 533.9,663.7 538.0,663.9 542.0,659.4 546.1,654.4 550.3,654.5 554.5,656.1 558.6,656.8 562.8,656.9 567.0,657.1 570.6,659.7 574.3,661.4 577.9,663.5 581.5,662.2 585.1,661.1 588.8,659.0 592.4,658.4 597.0,656.7 601.5,654.4 605.1,656.9 608.7,658.1 612.3,655.2 616.0,654.0 619.6,651.2 623.2,652.6 626.9,652.6 630.5,653.5 634.1,655.3 637.7,653.9 641.4,651.6 645.0,650.2 648.6,649.0 652.2,648.2 655.9,647.3 659.5,646.4 663.1,645.0 667.7,646.9 672.2,648.6 675.8,646.5 679.5,644.1 683.1,643.2 686.5,642.7 690.0,643.5 693.6,645.2 697.2,648.0 700.9,650.6 704.5,652.5 709.0,647.5 713.6,643.5 719.0,645.8 724.0,642.2 729.0,638.9 733.5,640.9 738.1,641.2 742.6,642.6 746.2,639.1 749.9,634.9 753.5,630.8 757.1,629.2 760.8,627.1 766.2,632.6 769.8,630.6 773.4,628.7 777.1,627.0 780.7,624.0 784.3,622.6 787.9,623.2 791.6,623.5 795.2,622.1 798.9,623.0 802.5,619.1 806.1,615.9 809.8,612.2 813.4,609.0 817.0,606.3 821.2,604.1 825.5,600.8 829.7,599.0 834.7,594.4 839.7,591.4 843.3,593.8 847.0,594.5 850.6,596.3 855.1,593.6 859.7,590.8 864.2,588.1 867.8,589.2 871.4,590.9 876.0,587.2 880.5,583.6 884.6,583.2 888.6,584.0 892.7,583.6 896.8,584.2 900.5,588.7 904.1,594.5 907.7,586.3 912.2,585.6 916.8,586.0 920.4,587.8 924.1,590.6 927.7,591.8 933.1,592.7 936.5,595.7 940.0,598.3 944.0,601.7 948.1,603.2 952.1,605.5 956.2,608.8 960.2,610.4 964.3,613.5 967.7,618.5 971.0,621.4 974.4,625.7 978.0,624.5 981.5,624.2 986.0,630.1 990.6,636.8 994.2,637.7 997.9,640.0 1001.5,641.3 1005.2,641.8 1008.8,642.9 1012.9,641.8 1016.9,645.1 1021.0,648.5 1025.0,652.4 1029.1,657.0 1032.6,655.1 1036.1,654.0 1039.5,657.2 1042.9,660.0 1046.3,662.7 1049.8,660.5 1053.3,657.0 1057.3,659.6 1061.4,660.8 1065.5,663.4 1069.5,665.1 1073.6,667.4 1077.6,670.2 1081.7,672.2 1085.3,673.0 1089.0,675.7 1092.6,675.4 1096.3,677.8 1099.9,678.9 1104.5,674.8 1109.0,671.2 1113.5,673.5 1118.1,674.8 1122.2,674.2 1126.2,674.8 1129.2,678.0 1132.3,679.7 1136.3,676.6 1140.4,675.7 1144.5,673.4 1148.5,670.8 1151.9,673.3 1155.2,675.2 1158.6,678.3 1162.6,676.9 1166.7,675.9 1170.7,674.8 1174.1,677.8 1177.4,681.3 1180.8,685.4 1184.2,683.0 1187.6,679.4 1191.0,676.3 1195.0,677.9 1199.1,680.5 1203.1,682.3 1207.2,680.5 1211.2,678.3 1215.2,681.2 1219.3,685.4 1222.3,685.6 1225.4,685.4" fill="none" stroke="#9a4650" stroke-width="1.6" stroke-linejoin="round"/>
<polyline points="194.5,705.3 198.3,704.9 202.1,703.6 206.0,704.5 209.8,703.8 213.6,702.5 217.2,702.8 220.8,703.4 224.5,703.0 228.1,703.8 232.6,702.2 237.2,701.6 240.8,702.0 244.4,703.1 248.0,702.3 251.7,700.4 255.3,699.8 259.5,702.5 263.8,702.7 268.0,705.3 271.2,702.9 274.4,701.6 278.0,703.3 281.6,707.0 285.2,708.9 289.4,707.4 293.6,706.3 297.7,704.7 301.9,704.0 306.1,702.5 310.2,703.7 314.2,704.7 318.3,706.5 322.4,708.0 326.0,706.4 329.7,704.8 333.4,704.9 337.0,703.1 341.5,705.6 346.0,707.4 349.6,707.2 353.3,707.1 356.9,705.7 360.6,705.2 364.2,704.9 367.8,703.9 371.4,703.1 375.0,706.7 378.7,710.7 382.4,707.2 386.0,703.1 390.1,702.0 394.3,702.6 398.4,702.5 402.6,702.0 406.7,701.2 410.9,702.2 415.0,701.6 419.1,701.9 423.1,704.0 427.2,704.4 431.3,706.2 435.6,704.0 440.0,703.4 443.6,701.0 447.2,699.0 450.9,697.3 454.5,696.5 458.1,694.3 462.6,697.9 467.2,700.7 471.4,699.3 475.7,698.6 479.9,697.1 484.1,698.0 488.4,698.9 492.6,699.8 496.2,698.7 499.9,696.2 503.5,698.1 507.1,700.7 510.7,699.3 514.4,696.9 518.0,694.9 521.6,692.5 525.7,693.0 529.8,694.5 533.9,695.8 538.0,698.0 541.6,697.0 545.2,697.4 548.9,696.6 552.5,695.2 557.0,691.8 561.6,687.1 565.7,687.8 569.8,690.2 573.8,691.6 577.9,692.5 581.5,691.8 585.1,690.5 588.8,688.0 592.4,687.4 596.0,686.8 599.7,687.9 603.3,687.4 607.5,686.2 611.8,684.8 616.0,682.5 620.5,684.7 625.1,687.1 628.7,686.2 632.4,683.3 636.0,683.1 639.6,680.7 643.2,683.2 646.9,684.1 650.5,686.2 654.4,686.5 658.3,688.4 662.2,689.3 666.5,686.9 670.9,683.6 675.2,680.3 679.5,678.4 684.0,680.7 688.6,683.8 692.0,684.6 695.4,684.3 699.0,681.3 702.7,680.6 706.3,677.1 710.0,674.7 713.6,673.0 717.2,671.3 720.9,671.8 724.5,670.6 728.1,668.9 732.0,669.8 735.8,670.6 739.6,672.9 743.5,673.8 747.6,672.0 751.7,668.9 756.7,670.1 761.7,673.0 765.9,670.7 770.0,668.6 774.2,665.3 778.3,663.0 782.5,660.3 787.0,663.8 791.6,666.2 795.7,656.2 799.8,647.1 803.4,653.0 807.0,659.8 811.3,655.3 815.6,650.4 820.0,645.6 824.3,640.8 827.9,641.4 831.5,642.6 836.0,640.2 840.6,636.2 844.2,635.7 847.9,636.3 851.5,636.5 855.1,635.7 859.2,634.5 863.2,632.9 867.3,632.2 871.4,631.7 875.0,626.4 878.7,622.6 882.4,622.4 886.0,623.5 889.6,622.1 893.2,621.8 896.9,621.1 900.5,620.5 904.1,619.9 909.5,618.1 913.1,621.8 916.8,625.3 920.4,628.8 924.1,631.6 927.7,635.3 930.9,634.7 934.0,633.5 937.0,634.4 940.0,635.2 943.6,635.0 947.3,636.3 950.9,636.4 954.6,637.6 958.2,637.8 962.2,644.8 966.3,651.0 969.8,651.5 973.4,652.9 977.0,653.9 980.5,655.0 983.9,659.4 987.2,663.6 990.6,669.2 994.6,669.8 998.7,672.9 1002.8,673.8 1006.8,674.8 1010.3,672.9 1013.9,671.2 1017.7,675.5 1021.5,678.9 1025.3,683.7 1029.1,687.4 1033.1,687.7 1037.1,686.4 1041.7,693.4 1046.3,699.5 1049.8,697.2 1053.3,695.1 1057.3,696.8 1061.4,697.6 1065.5,696.9 1069.5,698.5 1073.6,700.0 1077.6,701.8 1081.7,703.6 1085.7,701.6 1089.8,706.2 1093.8,711.7 1097.3,709.9 1100.9,707.0 1104.5,706.1 1108.0,703.6 1111.4,705.9 1114.7,706.1 1118.1,708.6 1122.2,707.2 1126.2,705.2 1130.2,705.5 1134.3,706.9 1138.3,707.7 1142.4,709.0 1146.5,709.4 1150.5,709.6 1154.0,708.8 1157.5,709.0 1161.1,707.5 1164.6,707.6 1168.0,710.2 1171.4,711.8 1174.8,714.1 1179.2,715.2 1183.5,716.8 1187.9,718.8 1192.5,715.9 1197.0,714.1 1201.0,717.0 1205.1,718.8 1209.2,716.7 1213.2,715.6 1217.3,714.2 1221.3,712.8 1225.4,712.1" fill="none" stroke="#844684" stroke-width="1.6" stroke-linejoin="round"/>
<polyline points="194.5,724.3 199.5,726.0 204.5,728.9 208.3,729.6 212.2,729.2 216.1,730.6 219.9,730.7 223.8,728.8 227.7,726.4 231.5,724.8 235.4,722.5 239.9,725.8 244.4,728.9 248.0,728.1 251.6,729.0 255.3,729.1 258.9,728.9 263.4,730.9 268.0,732.8 272.1,729.9 276.2,725.6 280.7,727.1 285.3,727.6 289.8,728.9 293.4,728.2 297.0,727.9 300.7,728.9 304.3,728.5 307.9,728.0 311.8,730.4 315.6,732.4 319.4,734.8 323.3,737.0 327.5,734.3 331.7,732.7 335.8,729.8 340.0,728.5 344.2,726.1 347.8,726.3 351.4,726.4 355.1,725.6 358.7,726.1 362.9,726.6 367.2,728.3 371.4,729.8 375.0,728.0 378.7,725.6 382.3,727.2 385.9,729.3 389.6,730.4 393.2,732.1 397.5,728.8 401.8,726.7 406.1,722.3 410.4,719.8 414.3,719.7 418.1,720.9 422.0,721.4 425.9,721.6 429.4,723.3 432.9,725.3 436.5,726.9 440.0,728.8 444.6,730.8 449.1,732.1 453.6,729.3 458.1,725.2 461.8,728.9 465.4,731.5 469.9,727.7 474.5,723.4 478.7,722.6 483.0,722.7 487.2,721.2 490.8,722.1 494.5,723.5 498.1,724.3 501.7,723.3 505.4,721.3 509.0,719.1 512.6,717.6 516.7,719.9 520.8,721.6 524.8,724.0 528.9,725.2 533.9,719.5 538.9,713.4 543.4,713.2 548.0,713.7 552.5,712.5 556.6,715.0 560.6,717.3 564.7,720.8 568.8,722.5 572.4,721.5 576.1,718.3 579.7,716.3 583.4,715.9 587.0,713.4 592.4,713.9 597.0,717.3 601.5,719.4 605.4,717.7 609.4,716.1 613.3,715.4 617.2,714.4 621.2,711.6 625.1,710.7 628.7,711.7 632.4,713.2 636.0,713.6 639.6,715.2 643.5,714.1 647.4,712.8 651.4,712.5 655.3,711.1 659.2,709.9 663.1,709.8 666.7,707.5 670.4,704.9 674.0,703.4 678.5,702.9 683.1,703.8 686.5,704.3 690.0,706.1 693.6,705.3 697.2,704.4 700.9,704.4 704.5,703.3 709.0,701.0 713.6,698.6 718.1,697.0 722.2,697.8 726.2,699.3 730.3,701.5 734.4,702.4 739.4,699.2 744.4,697.0 748.0,698.0 751.7,699.8 755.3,700.3 759.8,699.7 764.4,697.9 768.4,695.1 772.4,693.1 776.3,690.0 780.3,686.5 784.3,684.3 787.5,684.7 790.7,686.5 795.7,681.6 800.7,677.9 804.3,677.5 808.0,675.9 811.6,675.8 815.2,674.3 819.8,668.8 824.3,661.6 827.9,664.2 831.5,665.2 835.7,663.5 840.0,661.0 844.2,660.3 848.2,657.8 852.2,655.6 856.2,654.3 860.2,652.3 864.2,649.8 867.8,651.9 871.4,652.5 876.0,650.6 880.5,648.0 884.1,651.4 887.7,653.1 892.2,649.0 896.8,644.4 900.4,645.0 904.1,646.2 907.7,646.2 911.3,647.3 915.0,649.7 918.6,650.7 922.2,654.3 925.9,657.8 929.5,660.3 934.0,660.7 937.0,662.1 940.0,665.1 944.0,666.3 948.1,669.5 952.2,669.8 956.2,672.2 959.8,675.4 963.5,678.9 967.1,681.9 970.8,685.8 974.4,688.4 978.5,689.7 982.5,689.4 985.9,692.5 989.2,695.5 992.6,699.5 996.6,702.3 1000.7,703.5 1004.8,705.1 1008.8,707.0 1012.9,708.8 1016.9,711.7 1020.9,712.8 1025.0,713.3 1029.0,714.8 1033.1,715.7 1037.2,718.5 1041.2,719.8 1045.8,722.8 1050.3,725.8 1054.0,730.0 1057.7,731.8 1061.4,736.0 1065.5,735.9 1069.5,734.9 1073.5,731.4 1077.6,726.9 1081.1,728.5 1084.7,727.6 1088.2,729.2 1091.8,729.9 1095.2,732.4 1098.5,734.8 1101.9,737.0 1105.3,736.0 1108.6,734.8 1112.0,734.3 1116.1,734.2 1120.1,733.4 1124.2,731.9 1128.2,734.2 1132.3,736.6 1136.4,737.8 1140.4,739.6 1143.8,737.8 1147.1,737.8 1150.5,736.4 1154.5,735.7 1158.6,736.9 1162.6,736.7 1166.7,735.9 1170.7,736.4 1174.1,737.6 1177.4,739.4 1180.8,742.0 1184.6,739.5 1188.4,739.0 1192.2,735.7 1196.0,734.3 1199.5,738.3 1203.1,741.0 1207.7,737.3 1212.2,734.9 1215.8,737.7 1219.3,741.0 1222.3,741.0 1225.4,741.0" fill="none" stroke="#a050e0" stroke-width="1.6" stroke-linejoin="round"/>
<polyline points="194.5,762.4 199.5,765.6 204.5,767.0 208.3,767.4 212.2,768.3 216.1,768.8 219.9,768.8 223.8,766.9 227.7,765.3 231.5,764.9 235.4,763.3 239.9,765.4 244.4,768.8 248.0,768.6 251.6,769.5 255.3,769.5 258.9,768.8 263.4,769.7 268.0,772.0 272.1,768.2 276.2,766.0 280.0,766.0 283.8,767.5 287.5,766.5 291.3,767.4 295.1,767.6 298.9,768.8 303.4,767.2 307.9,767.0 312.0,769.3 316.0,770.9 320.1,773.6 324.2,776.0 328.2,774.4 332.2,772.4 336.2,769.8 340.2,768.5 344.2,766.0 347.8,765.8 351.5,766.0 355.1,765.1 359.2,765.8 363.2,767.2 367.3,768.7 371.4,769.7 375.0,768.7 378.7,766.0 382.6,767.6 386.4,768.7 390.2,769.7 394.1,771.5 398.2,768.2 402.2,765.1 406.3,763.5 410.4,759.7 414.3,760.7 418.1,761.1 422.0,760.8 425.9,761.1 429.4,763.6 432.9,765.0 436.5,767.4 440.0,769.6 444.6,769.9 449.1,771.4 453.6,768.3 458.1,765.5 461.8,767.6 465.4,770.5 469.0,766.6 472.7,765.0 476.3,761.1 480.5,760.4 484.8,761.7 489.0,761.1 493.6,763.3 498.1,764.7 501.7,761.9 505.4,760.5 509.0,759.4 512.6,756.4 516.7,759.4 520.8,760.7 524.8,763.1 528.9,764.7 533.9,758.9 538.9,752.4 543.4,751.9 548.0,752.2 552.5,752.0 556.6,754.8 560.6,757.0 564.7,760.4 568.8,762.4 572.4,760.3 576.1,758.8 579.7,755.6 583.4,754.3 587.0,752.4 592.4,752.0 597.0,754.5 601.5,758.7 605.4,757.6 609.4,756.7 613.3,754.7 617.2,753.4 621.2,752.2 625.1,750.6 628.7,751.0 632.4,752.2 636.0,753.4 639.6,754.2 643.8,753.7 648.1,752.5 652.3,751.9 656.5,750.9 660.8,750.5 665.0,749.7 668.6,747.9 672.3,745.1 675.9,743.3 680.1,744.9 684.4,746.4 688.6,747.0 690.0,745.6 693.6,745.2 697.2,745.6 700.9,743.9 704.5,743.8 708.4,742.6 712.2,739.3 716.0,737.7 719.9,736.0 723.5,738.2 727.1,738.4 730.8,741.0 734.4,742.4 739.4,740.5 744.4,737.3 749.0,739.7 753.5,740.5 757.1,740.1 760.8,738.8 764.4,738.4 768.0,734.6 771.7,731.6 775.3,727.8 779.8,725.0 784.3,723.8 788.0,724.1 791.6,726.0 795.2,723.7 798.9,720.2 802.5,717.0 806.7,715.8 811.0,715.6 815.2,715.1 819.2,707.5 823.3,700.6 827.4,703.6 831.5,705.2 836.0,702.4 840.6,700.3 844.2,700.7 847.8,700.3 851.9,698.1 856.0,694.7 860.1,691.9 864.2,689.7 867.8,691.7 871.4,693.7 875.0,691.1 878.7,688.8 882.8,690.8 886.8,692.5 890.9,688.5 895.0,685.2 899.3,685.7 903.6,685.1 907.9,684.5 912.2,685.2 915.4,687.5 918.6,688.8 922.2,694.1 925.9,697.9 930.0,699.8 934.0,701.0 937.0,702.4 940.0,703.6 943.6,706.1 947.3,708.0 950.9,708.2 954.6,710.9 958.2,712.7 962.2,715.4 966.3,719.5 970.4,722.9 974.4,726.9 978.5,727.8 982.5,728.9 985.9,732.9 989.2,736.9 992.6,740.0 996.6,741.5 1000.7,742.9 1004.8,746.6 1008.8,748.1 1012.9,749.6 1016.9,750.7 1021.0,752.5 1025.0,755.2 1028.7,755.8 1032.4,754.9 1036.1,754.6 1040.7,759.6 1045.2,763.3 1049.2,765.1 1053.3,765.9 1056.7,769.3 1060.1,772.4 1063.5,774.8 1066.5,774.0 1069.5,774.0 1073.5,770.2 1077.6,767.3 1081.1,768.0 1084.7,769.3 1088.2,770.2 1091.8,770.4 1095.2,773.0 1098.5,774.8 1101.9,776.8 1105.3,775.8 1108.6,774.4 1112.0,774.0 1116.1,773.6 1120.1,772.9 1124.2,772.0 1128.2,774.1 1132.3,776.5 1136.4,778.9 1140.4,780.1 1143.8,779.3 1147.1,776.3 1150.5,775.4 1154.0,775.2 1157.5,775.9 1161.1,776.2 1164.6,776.0 1168.6,777.2 1172.7,780.0 1176.8,780.8 1180.8,782.5 1184.3,781.1 1187.9,777.8 1191.5,776.3 1195.0,774.8 1199.0,776.6 1203.1,780.1 1207.7,778.0 1212.2,774.8 1216.6,777.1 1221.0,780.1 1225.4,781.5" fill="none" stroke="#3e3e8a" stroke-width="1.6" stroke-linejoin="round"/>
<polyline points="195.4,918.5 199.5,919.2 203.6,919.0 207.7,918.6 211.8,918.1 215.9,915.4 219.9,913.6 223.6,914.2 227.2,915.4 231.8,920.8 236.3,925.4 240.6,923.7 244.9,920.0 249.2,918.0 253.5,916.3 257.7,916.1 262.0,913.8 266.2,913.6 270.8,916.1 275.3,918.1 279.4,914.6 283.4,911.7 288.4,915.6 293.4,919.0 297.0,919.0 300.7,917.7 304.8,918.3 308.9,918.5 312.9,918.8 317.0,919.6 320.6,918.3 324.2,916.6 327.9,917.8 331.5,918.5 334.9,921.6 338.4,925.0 342.2,919.7 346.0,914.5 349.6,916.1 353.2,917.2 356.9,918.6 360.5,920.8 365.5,917.3 370.5,913.6 375.5,916.2 380.5,920.3 385.0,921.2 389.6,922.4 394.1,922.6 397.8,921.7 401.4,919.6 405.9,919.8 410.4,920.8 414.5,916.4 418.6,912.3 422.2,915.5 425.9,917.2 430.4,918.1 434.9,919.6 440.0,918.1 443.6,917.3 447.2,914.3 450.9,913.8 454.5,910.7 458.1,909.9 462.6,912.0 467.2,913.5 471.8,912.4 476.3,910.3 480.5,910.6 484.8,910.9 489.0,910.8 493.6,915.6 498.1,919.0 502.1,914.4 506.2,908.1 510.3,909.5 514.4,912.1 518.0,912.5 521.6,912.0 525.3,912.9 528.9,913.5 533.5,911.1 538.0,909.9 541.6,910.9 545.2,913.2 548.9,911.1 552.5,908.5 556.7,908.4 561.0,909.1 565.2,910.3 568.8,908.7 572.5,909.4 576.1,908.1 580.2,909.5 584.2,911.1 588.3,914.0 592.4,915.7 596.5,910.0 600.6,903.6 604.7,905.6 608.7,907.2 612.8,905.5 616.9,903.6 621.0,905.9 625.1,908.1 629.2,905.6 633.2,902.3 636.9,904.4 640.5,907.2 645.5,904.8 650.5,901.2 654.1,901.8 657.7,901.7 661.3,904.2 665.0,906.1 668.6,907.8 672.2,909.0 676.8,905.1 681.3,901.2 685.8,901.8 690.4,902.3 694.0,903.8 697.6,904.4 701.4,901.9 705.1,899.1 708.9,900.9 712.7,904.4 716.5,904.2 720.3,902.5 724.5,896.5 728.8,891.5 732.6,894.9 736.4,898.3 740.6,896.1 744.9,894.0 749.1,893.4 753.2,894.3 757.4,894.5 761.5,895.0 765.7,894.5 769.5,893.0 773.3,891.1 777.8,887.8 782.3,885.4 786.8,883.2 791.3,879.4 795.5,883.4 799.8,887.0 804.0,885.1 808.3,882.0 811.9,880.8 815.5,881.7 819.0,880.5 822.6,880.7 826.9,877.4 831.1,875.0 835.4,872.0 839.6,869.9 844.0,869.2 848.3,869.4 852.7,869.4 857.0,869.4 861.4,869.9 864.9,868.2 868.3,864.6 871.8,863.1 875.6,864.8 879.4,867.5 883.6,864.1 887.9,862.3 891.2,856.9 894.5,851.4 898.8,854.9 903.0,859.3 906.8,858.1 910.6,856.7 914.9,860.4 919.1,865.0 922.9,861.3 926.7,858.6 930.5,860.4 934.3,862.3 940.0,862.7 943.6,863.4 947.3,866.3 950.9,867.2 954.6,868.4 958.2,870.0 962.2,870.2 966.3,871.0 970.4,870.3 974.4,870.4 978.5,875.3 982.5,880.5 986.0,881.2 989.6,882.8 993.2,884.7 996.7,885.5 1000.1,885.7 1003.4,885.1 1006.8,885.5 1010.8,889.8 1014.9,892.6 1019.0,892.7 1023.0,894.2 1027.0,897.4 1031.1,901.1 1034.6,901.6 1038.2,901.8 1041.7,901.0 1045.2,901.1 1049.2,904.1 1053.3,908.8 1057.3,914.8 1061.4,920.6 1065.5,918.1 1069.5,915.1 1073.5,913.3 1077.6,911.2 1081.6,914.7 1085.7,916.1 1089.8,919.2 1093.8,922.6 1097.8,918.4 1101.9,915.3 1106.0,916.5 1110.0,916.3 1114.0,917.6 1118.1,917.9 1122.1,920.4 1126.2,921.5 1130.2,924.6 1133.6,921.8 1137.0,918.5 1140.4,916.5 1144.5,921.8 1148.5,926.0 1152.0,924.0 1155.5,922.0 1160.0,925.8 1164.6,930.1 1168.6,927.6 1172.7,924.6 1176.8,920.2 1180.8,917.9 1184.6,920.1 1188.4,923.4 1192.2,926.3 1196.0,929.5 1199.5,924.9 1203.1,920.6 1207.2,925.5 1211.2,930.7 1215.2,927.2 1219.3,922.0 1222.3,923.3 1225.4,924.0" fill="none" stroke="#3e8e40" stroke-width="1.6" stroke-linejoin="round"/>
<polyline points="195.4,945.7 199.5,947.7 203.6,948.0 207.7,950.0 211.8,950.8 216.3,950.2 220.8,948.0 224.7,948.6 228.6,950.3 232.4,950.5 236.3,951.7 240.4,948.6 244.4,946.4 248.5,944.7 252.6,941.7 256.4,940.2 260.3,940.3 264.1,939.0 268.0,938.4 272.6,940.2 277.1,943.1 280.7,942.3 284.3,941.7 287.9,942.5 291.6,943.6 295.2,945.4 298.9,945.7 302.5,945.8 306.1,944.4 309.7,945.4 313.4,948.3 317.0,948.9 320.6,948.4 324.2,947.5 327.9,950.4 331.5,951.7 335.1,950.9 338.8,949.0 342.4,947.1 346.0,946.2 350.6,949.1 355.1,950.4 359.6,949.8 364.2,947.5 368.2,947.8 372.2,947.0 376.1,948.4 380.1,948.4 384.1,948.0 387.7,946.3 391.4,944.1 395.0,940.8 398.6,943.7 402.3,944.9 405.9,944.5 409.6,943.1 413.2,942.6 416.8,941.7 421.0,944.2 425.3,947.2 429.5,949.3 434.0,947.0 438.6,944.8 443.1,941.7 447.9,944.0 452.7,946.2 456.9,947.0 461.2,948.2 465.4,948.0 469.9,943.8 474.5,938.6 478.1,944.1 481.7,948.0 485.8,945.2 489.9,941.0 494.0,938.3 498.1,935.3 501.7,938.1 505.3,941.7 509.0,940.3 512.6,939.8 516.7,941.2 520.7,944.0 525.7,938.9 530.7,935.3 534.3,935.9 538.0,937.1 541.6,937.9 545.3,938.8 548.9,938.6 552.5,938.7 556.1,937.7 559.8,938.0 563.4,938.6 567.0,937.4 570.6,938.5 574.3,937.2 577.9,937.1 581.5,934.4 585.1,930.8 588.8,935.2 592.4,939.8 596.0,940.4 599.6,941.4 603.3,941.5 606.9,941.7 611.9,935.5 616.9,930.8 621.5,934.6 626.0,938.0 629.9,935.3 633.7,933.9 637.5,930.2 641.4,928.1 645.0,930.1 648.6,933.1 653.0,932.7 657.3,930.5 661.7,928.7 666.0,928.8 670.4,927.1 674.0,929.9 677.7,931.1 681.3,933.1 685.6,930.5 690.0,929.0 693.8,928.7 697.5,926.8 701.3,925.7 705.1,925.2 708.9,925.8 712.7,928.1 716.5,927.5 720.3,925.6 724.1,926.6 727.9,928.6 732.1,926.1 736.4,924.8 740.6,923.6 744.9,921.4 748.2,924.2 751.5,925.2 755.0,922.8 758.5,921.6 762.0,919.5 765.7,921.8 769.9,919.6 774.1,918.9 778.2,916.4 782.4,915.0 786.6,912.9 790.4,913.5 794.1,912.9 797.6,914.6 801.2,916.1 804.8,917.0 808.3,919.5 811.6,917.0 815.0,915.7 819.2,911.3 823.5,906.3 827.0,907.3 830.6,907.5 834.2,907.1 837.7,908.5 842.5,907.3 847.2,905.3 851.0,906.4 854.8,906.9 858.5,907.2 862.3,907.2 866.1,907.3 869.9,906.5 873.7,906.3 877.5,906.3 882.2,903.3 886.9,901.5 890.7,901.7 894.5,901.0 898.3,901.8 902.1,900.6 905.9,901.0 910.6,899.6 914.6,901.1 918.7,902.7 922.7,904.9 926.7,907.2 930.5,905.8 934.3,903.4 940.0,905.2 944.0,907.8 948.1,910.0 952.1,911.2 956.1,910.5 960.2,911.8 964.2,911.8 968.3,911.8 972.4,913.0 976.4,915.6 980.5,916.6 984.5,917.5 988.6,919.3 993.2,918.2 997.7,915.9 1001.4,918.7 1005.1,921.6 1008.8,924.6 1012.9,925.7 1016.9,926.8 1021.0,928.0 1025.0,925.4 1029.1,924.6 1033.7,929.6 1038.2,933.5 1041.7,933.7 1045.2,934.7 1049.2,938.1 1053.3,941.6 1057.3,938.8 1061.4,937.1 1064.8,938.7 1068.2,939.3 1071.6,941.6 1075.6,940.4 1079.7,940.4 1083.7,941.2 1087.7,940.2 1091.8,941.5 1095.8,942.6 1099.9,943.2 1104.5,946.0 1109.0,950.3 1113.3,947.8 1117.6,946.0 1121.9,943.6 1126.2,940.8 1129.8,942.9 1133.5,944.4 1137.1,947.1 1140.8,950.3 1144.4,951.7 1148.0,951.9 1151.7,950.9 1155.3,950.0 1159.0,950.0 1162.6,949.3 1166.0,950.0 1169.3,950.3 1172.7,950.9 1176.8,949.7 1180.8,947.3 1184.6,949.0 1188.4,949.8 1192.2,952.5 1196.0,953.7 1199.8,954.6 1203.6,954.0 1207.4,955.3 1211.2,955.8 1214.8,955.3 1218.3,953.3 1221.9,952.0 1225.4,950.3" fill="none" stroke="#e058e0" stroke-width="1.6" stroke-linejoin="round"/>
<polyline points="195.4,991.0 199.1,991.8 202.7,992.5 206.3,991.3 210.0,992.5 214.1,995.3 218.2,997.1 222.2,997.8 226.3,1000.6 230.4,1002.4 234.4,1003.0 238.9,996.6 243.5,989.2 246.7,988.5 249.9,988.9 254.9,991.5 259.8,992.5 263.7,990.9 267.6,989.7 271.4,988.7 275.3,987.0 279.4,990.8 283.4,993.9 287.3,993.1 291.1,991.0 295.0,990.1 298.9,988.9 303.4,990.0 307.9,992.5 311.5,989.8 315.2,987.9 319.4,990.1 323.7,991.7 327.9,994.7 331.5,994.5 335.1,995.5 338.8,994.4 342.4,995.0 346.0,995.2 350.6,996.2 355.1,998.8 359.2,998.6 363.2,996.7 367.3,996.2 371.4,996.1 375.9,998.5 380.5,1000.1 384.1,999.0 387.8,998.1 391.4,997.0 395.0,997.2 398.7,997.0 402.3,997.0 406.8,998.7 411.3,1000.6 415.5,999.6 419.8,999.2 424.0,999.4 427.6,995.5 431.3,992.1 434.9,989.2 438.4,989.0 442.0,990.2 445.6,989.1 449.1,989.7 452.7,990.5 456.3,992.2 460.0,993.4 463.6,996.1 467.2,997.0 471.8,997.8 476.3,997.0 480.7,996.6 485.0,996.0 489.4,994.4 493.7,993.3 498.1,992.5 502.2,993.4 506.2,995.0 510.3,995.4 514.4,997.0 518.0,995.2 521.6,993.4 526.2,989.1 530.7,985.2 535.2,986.9 539.8,987.9 544.0,991.6 548.3,994.3 552.5,997.0 556.7,993.8 561.0,992.1 565.2,989.4 569.4,992.6 573.7,995.1 577.9,997.9 582.5,993.5 587.0,990.6 590.6,991.1 594.2,993.0 597.9,991.4 601.5,989.7 605.5,992.8 609.6,995.2 613.5,992.2 617.5,989.5 621.4,986.1 625.0,988.3 628.7,990.9 632.3,992.5 636.5,990.0 640.8,989.1 645.0,986.5 649.2,984.4 653.5,980.7 657.7,978.9 661.3,980.8 665.0,983.2 668.6,986.5 672.2,988.3 676.3,985.8 680.4,982.1 684.5,980.5 688.6,977.4 692.6,979.9 696.6,983.0 700.9,980.8 705.1,977.3 708.9,976.4 712.7,976.3 716.5,981.3 720.3,987.7 724.1,985.7 727.9,984.3 731.7,983.3 735.5,982.3 739.2,981.5 743.0,980.5 747.2,977.2 751.5,975.4 755.8,977.5 760.1,980.5 763.9,976.8 767.6,974.8 772.4,976.9 777.1,977.3 780.9,978.0 784.7,978.3 788.5,978.8 792.3,980.1 796.1,979.0 799.8,976.7 803.6,976.3 808.0,973.5 812.5,972.2 816.9,969.7 822.6,970.3 827.3,972.6 832.0,974.8 836.3,972.8 840.5,970.7 844.8,967.4 849.1,965.4 853.5,966.0 857.9,966.3 862.3,965.9 866.5,970.6 870.8,974.1 874.8,969.1 878.8,964.5 882.9,958.2 886.9,954.0 890.7,955.6 894.5,958.5 898.3,960.6 902.1,962.7 905.9,959.8 909.7,956.5 914.0,957.9 918.2,959.7 922.0,953.8 925.8,949.5 930.0,955.8 934.3,962.7 938.0,959.1 941.8,956.5 945.9,957.1 950.0,956.7 954.1,957.9 958.2,957.8 962.2,955.6 966.3,953.3 969.7,954.6 973.0,956.5 976.4,957.8 980.0,958.7 983.5,957.8 987.0,957.5 990.6,958.4 994.7,963.8 998.7,967.9 1002.8,964.3 1006.8,961.4 1010.8,963.1 1014.9,963.4 1019.0,964.3 1023.0,965.5 1027.0,965.3 1031.1,963.9 1035.2,964.5 1039.2,966.5 1042.7,967.5 1046.2,966.8 1049.8,968.0 1053.3,967.9 1057.3,965.5 1061.4,961.4 1065.5,965.2 1069.5,967.4 1073.5,971.7 1077.6,974.0 1081.7,972.9 1085.7,971.6 1089.8,973.4 1093.8,976.0 1097.8,975.8 1101.9,976.0 1105.5,980.1 1109.0,985.7 1113.5,979.7 1118.1,973.2 1121.6,975.1 1125.2,977.4 1128.8,980.0 1132.3,981.3 1135.8,980.7 1139.3,979.4 1142.9,979.9 1146.4,979.2 1150.0,980.9 1153.7,984.3 1157.3,986.6 1161.0,988.9 1164.6,991.4 1168.3,991.4 1172.0,990.1 1175.8,990.3 1179.5,989.8 1183.2,989.6 1186.9,989.8 1190.9,991.0 1195.0,993.0 1199.0,995.4 1203.1,995.8 1207.1,995.9 1211.2,994.8 1215.2,997.4 1219.3,999.5 1222.3,997.9 1225.4,995.4" fill="none" stroke="#4040d8" stroke-width="1.6" stroke-linejoin="round"/>
<polyline points="195.4,1028.8 199.6,1028.6 203.9,1029.5 208.1,1029.7 211.7,1032.2 215.4,1033.2 219.0,1034.5 222.7,1035.8 226.3,1037.8 231.3,1038.2 236.3,1040.0 240.4,1033.9 244.4,1026.0 248.0,1027.4 251.6,1027.4 255.3,1028.9 258.9,1029.7 263.0,1028.9 267.1,1028.1 271.2,1025.9 275.3,1025.1 279.8,1028.0 284.3,1031.5 287.9,1029.7 291.6,1029.2 295.2,1028.6 298.9,1026.6 303.4,1028.6 307.9,1029.7 311.5,1026.8 315.2,1025.1 319.7,1028.5 324.2,1032.4 328.6,1031.8 332.9,1032.1 337.3,1032.9 341.6,1032.5 346.0,1033.3 350.6,1034.2 355.1,1036.0 359.2,1035.1 363.2,1035.0 367.3,1035.3 371.4,1034.2 375.9,1035.1 380.5,1036.9 384.1,1036.5 387.7,1035.5 391.4,1034.7 395.0,1034.1 398.6,1033.8 402.5,1035.9 406.5,1037.7 410.4,1038.7 414.3,1038.7 418.1,1038.5 422.0,1037.8 425.9,1036.9 429.9,1032.0 434.0,1027.9 438.0,1027.5 442.0,1028.1 446.1,1028.2 450.1,1028.6 454.1,1028.9 458.1,1028.2 462.6,1031.4 467.2,1033.6 471.4,1034.4 475.7,1033.7 479.9,1033.3 483.5,1033.1 487.2,1032.8 490.8,1031.7 494.5,1031.7 498.1,1030.6 502.2,1032.2 506.2,1032.4 510.3,1033.0 514.4,1034.2 518.0,1032.4 521.6,1031.1 526.2,1027.2 530.7,1022.8 534.8,1023.4 538.9,1023.8 543.4,1027.3 548.0,1030.5 552.5,1034.2 556.1,1032.6 559.8,1030.4 563.4,1028.8 567.0,1026.0 570.6,1030.0 574.3,1031.5 577.9,1035.5 582.5,1031.5 587.0,1027.8 590.6,1029.6 594.2,1030.6 597.9,1028.4 601.5,1026.0 605.1,1029.4 608.7,1032.4 612.3,1029.4 616.0,1027.0 619.6,1025.2 623.2,1022.0 628.2,1026.2 633.2,1029.7 637.3,1027.4 641.4,1023.8 646.8,1025.1 651.0,1023.2 655.3,1020.5 659.5,1017.0 663.1,1019.8 666.8,1022.1 670.4,1024.2 674.0,1025.7 678.5,1022.9 683.1,1018.5 687.6,1015.1 692.1,1017.8 696.6,1020.8 700.9,1018.2 705.1,1015.7 708.9,1015.9 712.7,1015.2 716.5,1021.3 720.3,1025.6 724.1,1024.2 727.9,1022.2 731.7,1021.1 735.5,1019.5 739.2,1018.7 743.0,1018.4 747.2,1015.1 751.5,1013.3 755.8,1015.2 760.1,1018.4 763.9,1014.7 767.6,1012.7 771.4,1013.0 775.2,1013.3 779.0,1014.2 783.4,1016.4 787.9,1016.4 792.3,1018.4 796.1,1016.4 799.8,1016.6 803.6,1014.6 808.0,1012.7 812.5,1009.3 816.9,1006.6 820.7,1008.0 824.5,1009.0 828.2,1010.4 832.0,1011.9 837.7,1010.4 841.5,1007.6 845.3,1004.9 849.1,1003.2 853.5,1004.1 857.9,1003.9 862.3,1003.2 866.5,1008.0 870.8,1011.4 874.8,1006.0 878.8,1002.1 882.9,996.4 886.9,992.4 890.7,994.8 894.5,995.7 898.3,998.7 902.1,1000.6 905.9,997.3 909.7,995.3 914.0,996.6 918.2,996.2 922.5,992.9 926.7,988.1 930.5,993.9 934.3,1000.0 938.0,997.7 941.8,993.8 945.2,995.3 948.7,995.3 952.1,996.9 955.6,996.0 959.2,994.5 962.8,991.9 966.3,990.8 969.7,992.8 973.0,993.8 976.4,995.8 980.0,994.9 983.5,995.7 987.0,995.1 990.6,995.8 994.7,1001.7 998.7,1006.4 1002.8,1003.7 1006.8,1000.3 1010.3,1000.3 1013.9,1001.1 1017.5,1001.0 1021.0,1002.3 1025.0,1001.3 1029.1,1000.9 1032.5,1002.1 1035.8,1003.5 1039.2,1003.9 1042.7,1005.3 1046.2,1005.2 1049.8,1005.4 1053.3,1006.0 1057.3,1003.6 1061.4,999.9 1064.8,1003.4 1068.2,1007.2 1071.6,1010.0 1075.1,1009.7 1078.7,1010.7 1082.2,1009.5 1085.7,1010.0 1089.8,1012.1 1093.8,1014.5 1097.8,1014.0 1101.9,1014.5 1105.5,1018.6 1109.0,1023.2 1113.0,1017.6 1117.1,1011.6 1121.4,1014.3 1125.7,1014.5 1130.0,1017.4 1134.3,1019.1 1138.3,1018.4 1142.4,1019.4 1146.5,1019.1 1150.5,1018.5 1154.0,1022.2 1157.5,1025.0 1161.1,1027.2 1164.6,1029.8 1168.3,1028.9 1172.0,1029.3 1175.8,1028.4 1179.5,1027.6 1183.2,1026.9 1186.9,1027.2 1190.9,1029.9 1195.0,1031.2 1199.0,1033.3 1203.1,1032.7 1207.1,1032.8 1211.2,1033.3 1215.2,1034.3 1219.3,1036.7 1222.3,1034.2 1225.4,1033.3" fill="none" stroke="#e05050" stroke-width="1.6" stroke-linejoin="round"/>
<polyline points="195.4,1047.3 199.0,1047.5 202.7,1049.5 206.3,1050.4 210.0,1050.4 213.6,1051.4 219.0,1050.2 223.6,1051.9 228.1,1054.5 232.6,1051.8 237.2,1050.2 241.3,1050.2 245.3,1051.2 249.4,1052.0 253.5,1053.3 257.1,1052.6 260.8,1050.0 264.4,1048.6 268.0,1047.8 271.9,1051.4 275.7,1054.3 279.5,1055.6 283.4,1059.2 287.9,1055.0 292.5,1051.4 297.0,1053.9 301.6,1054.5 306.1,1056.3 309.7,1055.7 313.4,1055.0 317.0,1053.8 321.2,1054.5 325.5,1053.9 329.7,1055.1 333.8,1053.5 337.9,1051.6 341.9,1048.9 346.0,1046.9 349.9,1048.2 353.9,1050.4 357.8,1052.5 361.7,1054.0 365.7,1054.2 369.6,1056.3 374.1,1053.0 378.7,1048.7 382.3,1049.6 385.9,1051.4 389.6,1052.3 393.2,1052.4 397.8,1051.3 402.3,1050.2 405.9,1052.5 409.5,1053.3 414.1,1050.3 418.6,1046.0 422.7,1048.3 426.8,1052.0 430.4,1048.6 434.0,1045.5 437.8,1047.6 441.6,1047.5 445.3,1049.1 449.1,1050.5 453.3,1052.2 457.6,1053.2 461.8,1055.0 465.4,1055.2 469.1,1053.7 472.7,1054.1 476.3,1053.6 479.9,1052.5 483.6,1050.3 487.2,1050.4 490.8,1048.7 495.4,1049.7 499.9,1049.6 505.3,1054.1 509.4,1050.2 513.5,1045.1 517.5,1049.5 521.6,1055.0 526.2,1052.4 530.7,1049.6 534.4,1051.5 538.0,1054.7 542.5,1050.3 547.0,1045.1 550.2,1047.1 553.4,1048.7 557.5,1047.9 561.6,1045.6 565.7,1048.0 569.7,1051.8 573.8,1046.2 577.9,1041.4 582.0,1043.1 586.0,1046.3 589.6,1044.6 593.3,1041.4 597.8,1047.1 602.4,1052.3 606.0,1051.7 609.6,1052.3 613.2,1049.6 616.9,1046.0 621.0,1048.2 625.1,1050.5 629.3,1049.7 633.5,1049.8 637.7,1048.7 642.2,1047.3 646.8,1045.1 651.3,1041.7 655.9,1038.4 660.5,1042.5 665.0,1047.4 669.5,1044.2 674.0,1041.4 678.5,1043.0 683.1,1044.5 687.6,1046.9 692.6,1042.8 697.6,1039.8 701.4,1039.6 705.1,1039.2 708.9,1042.2 712.7,1043.6 716.5,1041.8 720.3,1039.8 724.1,1040.0 727.8,1039.6 731.6,1041.5 735.4,1041.1 739.7,1037.7 744.0,1035.0 747.3,1037.3 750.6,1040.3 755.4,1037.6 760.1,1034.1 764.8,1039.2 769.5,1043.0 773.3,1042.6 777.1,1043.6 780.9,1042.7 784.7,1042.8 788.5,1044.0 792.3,1043.0 796.0,1038.1 799.8,1033.1 804.0,1036.9 808.3,1042.2 812.1,1039.3 815.9,1036.0 819.7,1032.1 823.5,1029.7 827.8,1033.3 832.0,1038.4 835.8,1038.2 839.6,1038.4 843.9,1033.9 848.1,1027.8 851.4,1027.5 854.7,1027.5 859.5,1030.7 864.2,1032.2 868.0,1030.6 871.8,1029.4 875.6,1029.2 879.4,1029.7 883.6,1026.4 887.9,1024.6 891.2,1025.7 894.5,1026.5 898.8,1028.3 903.0,1031.3 906.8,1028.8 910.6,1024.6 914.1,1025.8 917.7,1025.6 921.2,1027.7 924.8,1028.4 928.6,1025.5 932.4,1023.0 936.2,1019.9 939.9,1020.5 943.5,1020.1 947.2,1021.2 950.9,1021.9 954.5,1021.4 958.2,1022.6 962.2,1025.3 966.3,1026.6 969.7,1027.2 973.0,1026.4 976.4,1027.2 979.5,1027.9 982.5,1030.2 986.0,1028.4 989.6,1027.2 993.2,1025.6 996.7,1023.8 1000.7,1023.1 1004.8,1024.0 1008.8,1023.9 1012.9,1023.2 1016.9,1023.8 1021.0,1027.8 1025.0,1032.1 1029.1,1035.9 1033.1,1033.4 1037.2,1029.4 1041.2,1026.4 1045.2,1024.2 1049.2,1027.4 1053.3,1029.8 1057.4,1030.7 1061.4,1029.9 1065.5,1029.8 1069.5,1029.8 1073.6,1028.3 1077.6,1027.8 1081.7,1030.2 1085.7,1033.9 1089.8,1033.9 1093.8,1033.3 1097.8,1030.3 1101.9,1028.2 1105.3,1031.2 1108.6,1033.4 1112.0,1035.3 1116.4,1037.7 1120.8,1041.3 1125.2,1044.8 1129.8,1042.6 1134.3,1039.3 1138.3,1038.5 1142.4,1038.8 1146.4,1039.3 1150.0,1040.1 1153.7,1042.9 1157.3,1045.0 1161.0,1046.2 1164.6,1047.4 1169.2,1042.8 1173.8,1036.7 1177.6,1040.1 1181.3,1045.2 1185.1,1049.4 1188.9,1052.5 1193.0,1051.2 1197.0,1048.1 1201.0,1046.4 1205.1,1044.8 1208.5,1046.3 1211.8,1046.5 1215.2,1046.8 1218.6,1048.4 1222.0,1049.9 1225.4,1052.1" fill="none" stroke="#3a3a3a" stroke-width="1.6" stroke-linejoin="round"/>
<text x="1237.10" y="591.1" font-size="40" text-anchor="start" fill="#000" textLength="182.92" lengthAdjust="spacingAndGlyphs" >Separator</text>
<text x="1242.90" y="675.6" font-size="42" text-anchor="start" fill="#000" textLength="129.13" lengthAdjust="spacingAndGlyphs" >7.0 <tspan style="font-family:'Liberation Serif'">μ</tspan>m</text>
<text x="1238.50" y="723.2" font-size="42" text-anchor="start" fill="#000" textLength="133.24" lengthAdjust="spacingAndGlyphs" >6.6 <tspan style="font-family:'Liberation Serif'">μ</tspan>m</text>
<text x="1240.70" y="766.6" font-size="42" text-anchor="start" fill="#000" textLength="131.26" lengthAdjust="spacingAndGlyphs" >6.2 <tspan style="font-family:'Liberation Serif'">μ</tspan>m</text>
<text x="1238.00" y="818.5" font-size="42" text-anchor="start" fill="#000" textLength="130.82" lengthAdjust="spacingAndGlyphs" >5.8 <tspan style="font-family:'Liberation Serif'">μ</tspan>m</text>
<text x="1242.00" y="914" font-size="42" text-anchor="start" fill="#000" textLength="129.98" lengthAdjust="spacingAndGlyphs" >4.1 <tspan style="font-family:'Liberation Serif'">μ</tspan>m</text>
<text x="1241.90" y="956.9" font-size="42" text-anchor="start" fill="#000" textLength="118.64" lengthAdjust="spacingAndGlyphs" >3.7<tspan style="font-family:'Liberation Serif'">μ</tspan>m</text>
<text x="1240.90" y="1000.3" font-size="42" text-anchor="start" fill="#000" textLength="130.63" lengthAdjust="spacingAndGlyphs" >3.3 <tspan style="font-family:'Liberation Serif'">μ</tspan>m</text>
<text x="1243.00" y="1042.4" font-size="42" text-anchor="start" fill="#000" textLength="130.74" lengthAdjust="spacingAndGlyphs" >2.9 <tspan style="font-family:'Liberation Serif'">μ</tspan>m</text>
<text x="1240.40" y="1085" font-size="42" text-anchor="start" fill="#000" textLength="130.55" lengthAdjust="spacingAndGlyphs" >2.5 <tspan style="font-family:'Liberation Serif'">μ</tspan>m</text></svg></body></html>
